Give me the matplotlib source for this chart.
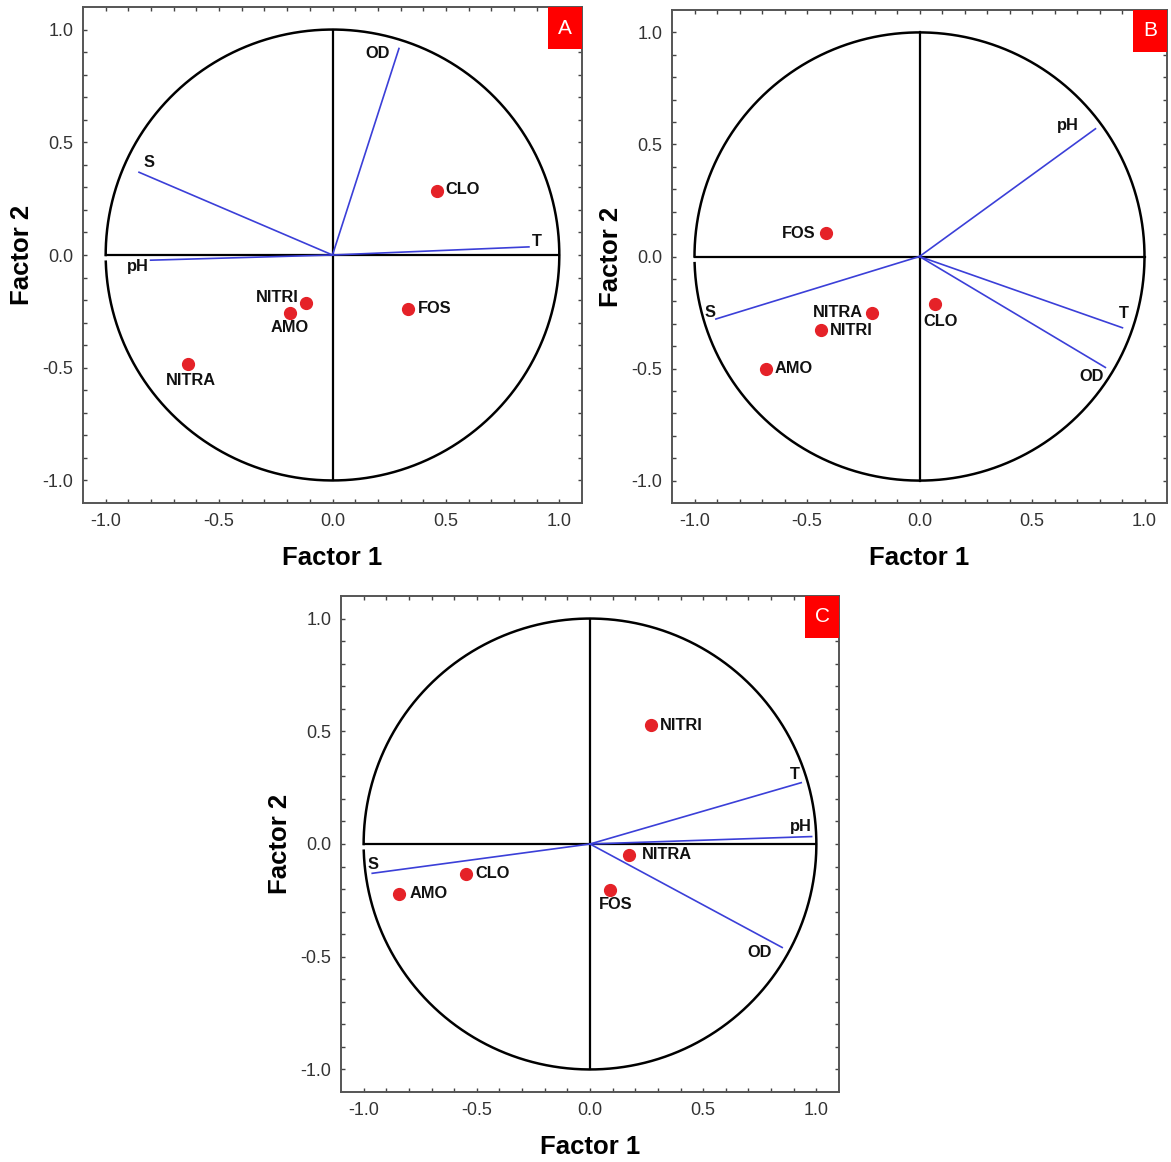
import numpy as np
import matplotlib
matplotlib.use("Agg")
import matplotlib.pyplot as plt
from matplotlib.patches import Rectangle

plt.rcParams['font.family'] = ['Liberation Sans', 'DejaVu Sans']

# ---------------- data ----------------
# Panel A
A_var_names = ["OD", "S", "T", "pH"]
A_var_x = [0.293, -0.853, 0.866, -0.802]
A_var_y = [0.916, 0.367, 0.036, -0.023]
A_pt_names = ["CLO", "FOS", "NITRI", "AMO", "NITRA"]
A_pt_x = [0.462, 0.335, -0.118, -0.189, -0.637]
A_pt_y = [0.285, -0.239, -0.211, -0.257, -0.482]

# Panel B
B_var_names = ["pH", "T", "OD", "S"]
B_var_x = [0.782, 0.902, 0.826, -0.905]
B_var_y = [0.570, -0.318, -0.495, -0.279]
B_pt_names = ["FOS", "CLO", "NITRA", "NITRI", "AMO"]
B_pt_x = [-0.415, 0.068, -0.209, -0.439, -0.681]
B_pt_y = [0.104, -0.211, -0.252, -0.330, -0.500]

# Panel C
C_var_names = ["T", "pH", "OD", "S"]
C_var_x = [0.933, 0.979, 0.849, -0.962]
C_var_y = [0.272, 0.033, -0.459, -0.130]
C_pt_names = ["NITRI", "NITRA", "FOS", "CLO", "AMO"]
C_pt_x = [0.269, 0.174, 0.090, -0.549, -0.842]
C_pt_y = [0.527, -0.048, -0.204, -0.133, -0.221]

tick_vals = [-1.0, -0.5, 0.0, 0.5, 1.0]
tick_labels = ["-1.0", "-0.5", "0.0", "0.5", "1.0"]

# label placement (offset pixels, ha)
A_var_lab = {"OD": (-21, -5, "center"), "S": (10, 10, "center"),
             "T": (8, 5, "center"), "pH": (-13, -6, "center")}
A_pt_lab = {"CLO": (8, 1, "left"), "FOS": (9, 0, "left"), "NITRI": (-7, 5, "right"),
            "AMO": (0, -15, "center"), "NITRA": (3, -17, "center")}
B_var_lab = {"pH": (-28, 3, "center"), "T": (1, 14, "center"),
             "OD": (-14, -9, "center"), "S": (-6, 7, "center")}
B_pt_lab = {"FOS": (-11, 0, "right"), "CLO": (6, -18, "center"), "NITRA": (-9, 0, "right"),
            "NITRI": (9, 0, "left"), "AMO": (8, 0, "left")}
C_var_lab = {"T": (-6, 8, "center"), "pH": (-11, 10, "center"),
             "OD": (-23, -5, "center"), "S": (1, 9, "center")}
C_pt_lab = {"NITRI": (9, 0, "left"), "NITRA": (12, 0, "left"), "FOS": (5, -15, "center"),
            "CLO": (10, 0, "left"), "AMO": (10, 0, "left")}

W, H = 1171, 1162
fig = plt.figure(figsize=(W / 100, H / 100), dpi=100)

def px_axes(l, r, t, b):
    return fig.add_axes([l / W, 1 - b / H, (r - l) / W, (b - t) / H])

panels = [
    ("A", px_axes(83, 582, 7, 503), A_var_names, A_var_x, A_var_y, A_pt_names, A_pt_x, A_pt_y, A_var_lab, A_pt_lab),
    ("B", px_axes(672, 1167, 10, 503), B_var_names, B_var_x, B_var_y, B_pt_names, B_pt_x, B_pt_y, B_var_lab, B_pt_lab),
    ("C", px_axes(341, 839, 596, 1092), C_var_names, C_var_x, C_var_y, C_pt_names, C_pt_x, C_pt_y, C_var_lab, C_pt_lab),
]

blue = "#3b3fd8"
red = "#e52228"
theta = np.radians(np.linspace(181.7, 540, 600))

for letter, ax, vn, vx, vy, pn, px_, py_, vlab, plab in panels:
    ax.set_xlim(-1.1, 1.1)
    ax.set_ylim(-1.1, 1.1)
    # circle & cross
    ax.plot(np.cos(theta), np.sin(theta), color="black", lw=1.8, zorder=2)
    ax.plot([-1, 1], [0, 0], color="black", lw=1.6, zorder=2)
    ax.plot([0, 0], [-1, 1], color="black", lw=1.6, zorder=2)
    # vectors
    for n, x, y in zip(vn, vx, vy):
        ax.plot([0, x], [0, y], color=blue, lw=1.2, zorder=3)
        dx, dy, ha = vlab[n]
        ax.annotate(n, (x, y), xytext=(dx, dy), textcoords="offset pixels",
                    ha=ha, va="center", fontsize=11.8, fontweight="bold", color="#111111")
    # points
    ax.plot(px_, py_, "o", color=red, ms=8.5, mec=red, zorder=4)
    for n, x, y in zip(pn, px_, py_):
        dx, dy, ha = plab[n]
        ax.annotate(n, (x, y), xytext=(dx, dy), textcoords="offset pixels",
                    ha=ha, va="center", fontsize=11.8, fontweight="bold", color="#111111")
    # ticks
    ax.set_xticks(tick_vals)
    ax.set_xticklabels(tick_labels)
    ax.set_yticks(tick_vals)
    ax.set_yticklabels(tick_labels)
    ax.set_xticks(np.arange(-10, 11) / 10, minor=True)
    ax.set_yticks(np.arange(-10, 11) / 10, minor=True)
    ax.tick_params(which="both", direction="in", top=True, right=True,
                   length=3, width=1, color="#444444")
    ax.tick_params(which="major", labelsize=13, labelcolor="#333333", pad=7)
    for s in ax.spines.values():
        s.set_color("#555555")
        s.set_linewidth(1.4)
    ax.set_xlabel("Factor 1", fontsize=18.5, fontweight="bold", labelpad=12)
    ax.set_ylabel("Factor 2", fontsize=18.5, fontweight="bold", labelpad=6)
    # red letter box
    bw = 34 / (ax.get_position().width * W)
    bh = 42 / (ax.get_position().height * H)
    ax.add_patch(Rectangle((1 - bw, 1 - bh), bw, bh, transform=ax.transAxes,
                           fc="#ff0000", ec="none", zorder=5, clip_on=False))
    ax.text(1 - bw / 2, 1 - bh / 2, letter, transform=ax.transAxes, ha="center",
            va="center", fontsize=15, color="white", zorder=6)

fig.savefig("out.png", dpi=100)
